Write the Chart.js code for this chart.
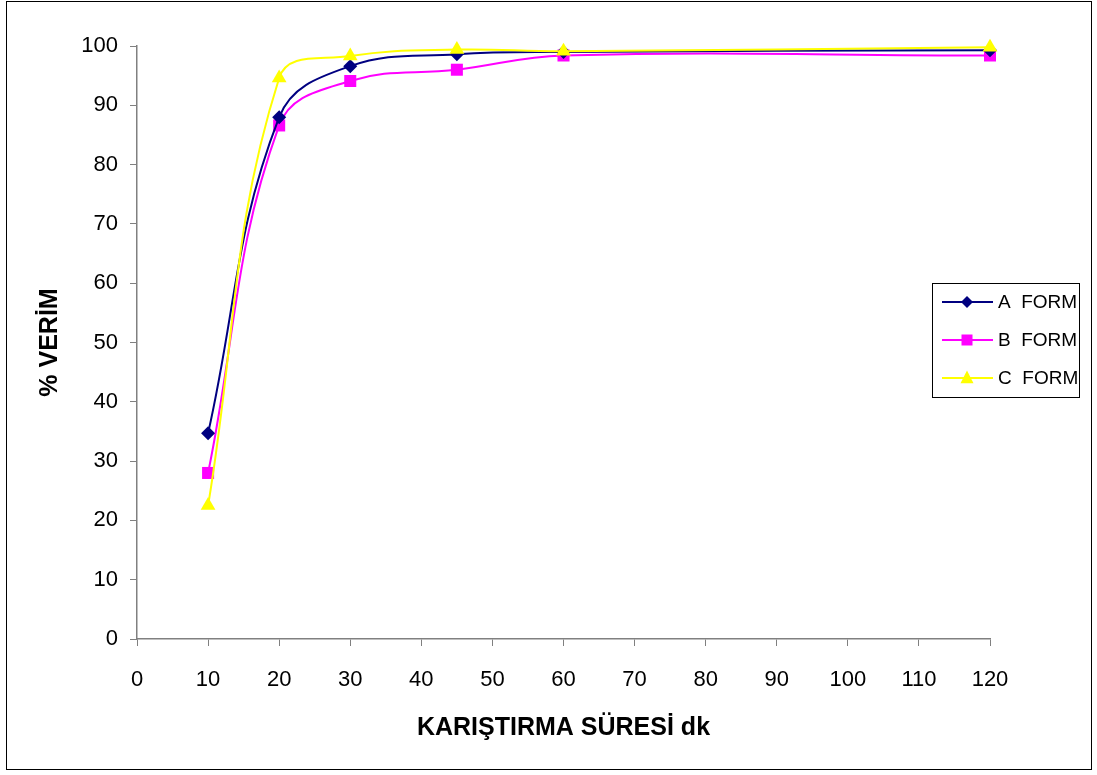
<!DOCTYPE html>
<html>
<head>
<meta charset="utf-8">
<script src="https://cdn.jsdelivr.net/npm/chart.js@4.4.1/dist/chart.umd.min.js"></script>
<style>
    body { margin: 0; background: #fff; }
    canvas { display: block; }
</style>
</head>
<body>
<canvas id="verimChart" width="1097" height="775"></canvas>
<script>
    // karistirma suresi (dk)
    const sureler = [10, 20, 30, 45, 60, 120];
    const aForm = [34.7, 88.0, 96.6, 98.6, 99.0, 99.3];
    const bForm = [28.0, 86.6, 94.1, 96.0, 98.4, 98.4];
    const cForm = [22.5, 94.6, 98.3, 99.4, 99.1, 99.8];
    const seriesNames = ['A FORM', 'B FORM', 'C FORM'];

    const toPoints = vals => sureler.map((x, i) => ({x: x, y: vals[i]}));

    const styles = [
        {color: '#000080', pointStyle: 'rectRot', radius: 7},
        {color: '#FF00FF', pointStyle: 'rect', radius: 8.5},
        {color: '#FFFF00', pointStyle: 'triangle', radius: 8.5}
    ];

    function drawMarker(ctx, style, x, y) {
        ctx.fillStyle = style.color;
        ctx.beginPath();
        if (style.pointStyle === 'rectRot') {
            const r = 6;
            ctx.moveTo(x, y - r); ctx.lineTo(x + r, y); ctx.lineTo(x, y + r); ctx.lineTo(x - r, y);
        } else if (style.pointStyle === 'rect') {
            const r = 5.5;
            ctx.rect(x - r, y - r, 2 * r, 2 * r);
        } else {
            const r = 6.5;
            ctx.moveTo(x, y - r - 1); ctx.lineTo(x + r, y + r * 0.8); ctx.lineTo(x - r, y + r * 0.8);
        }
        ctx.closePath();
        ctx.fill();
    }

    // cerceve ve lejant
    const frameLegend = {
        id: 'frameLegend',
        afterDraw(chart) {
            const ctx = chart.ctx;
            ctx.save();
            ctx.strokeStyle = '#000';
            ctx.lineWidth = 1;
            ctx.strokeRect(6.5, 1.5, 1085, 768);

            ctx.strokeRect(932.5, 283.5, 147, 114);
            ctx.font = '19px "Liberation Sans", Arial, sans-serif';
            ctx.textBaseline = 'middle';
            seriesNames.forEach((name, i) => {
                const y = 302 + i * 38;
                const st = styles[i];
                ctx.strokeStyle = st.color;
                ctx.lineWidth = 2;
                ctx.beginPath();
                ctx.moveTo(942, y); ctx.lineTo(993, y);
                ctx.stroke();
                drawMarker(ctx, st, 967, y);
                ctx.fillStyle = '#000';
                ctx.fillText(name.replace(' ', '  '), 998, y + 1);
            });
            ctx.restore();
        }
    };

    const datasets = [aForm, bForm, cForm].map((vals, i) => ({
        label: seriesNames[i],
        data: toPoints(vals),
        borderColor: styles[i].color,
        backgroundColor: styles[i].color,
        borderWidth: 2,
        pointStyle: styles[i].pointStyle,
        pointRadius: styles[i].radius,
        pointBorderWidth: 0,
        tension: 0.4,
        clip: false
    }));
    // C en uste cizilsin
    datasets[0].order = 2;
    datasets[1].order = 3;
    datasets[2].order = 1;

    const tickFont = {family: '"Liberation Sans", Arial, sans-serif', size: 22};
    const titleFont = {family: '"Liberation Sans", Arial, sans-serif', size: 25, weight: 'bold'};

    new Chart(document.getElementById('verimChart').getContext('2d'), {
        type: 'line',
        data: {datasets: datasets},
        options: {
            responsive: false,
            animation: false,
            layout: {padding: {top: 46, right: 107, bottom: 0, left: 0}},
            plugins: {
                legend: {display: false},
                tooltip: {enabled: false}
            },
            scales: {
                x: {
                    type: 'linear',
                    min: 0,
                    max: 120,
                    ticks: {stepSize: 10, color: '#000', font: tickFont, padding: 21, maxRotation: 0},
                    grid: {drawOnChartArea: false, color: '#808080', tickLength: 7},
                    border: {color: '#808080', width: 1.5},
                    title: {display: true, text: 'KARIŞTIRMA SÜRESİ dk', color: '#000', font: titleFont,
                        padding: {top: 0, bottom: 32}},
                    afterFit: scale => { scale.height = 136; }
                },
                y: {
                    min: 0,
                    max: 100,
                    ticks: {stepSize: 10, color: '#000', font: tickFont, padding: 12},
                    grid: {drawOnChartArea: false, color: '#808080', tickLength: 7},
                    border: {color: '#808080', width: 1.5},
                    title: {display: true, text: '% VERİM', color: '#000', font: titleFont,
                        padding: {top: 35, bottom: 0}},
                    afterFit: scale => { scale.width = 137; }
                }
            }
        },
        plugins: [frameLegend]
    });
</script>
</body>
</html>
